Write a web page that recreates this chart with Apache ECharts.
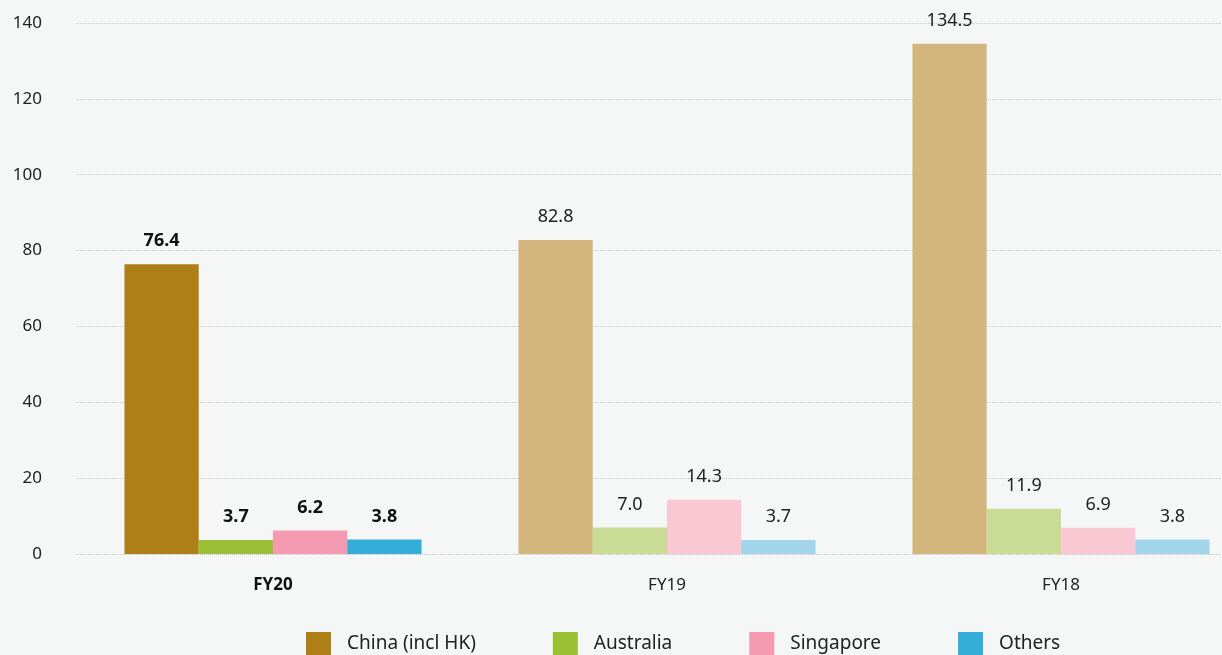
<!DOCTYPE html>
<html>
<head>
<meta charset="utf-8">
<script src="https://cdn.jsdelivr.net/npm/echarts@6/dist/echarts.min.js"></script>
<style>
html,body{margin:0;padding:0;background:#f5f7f6;}
#c{width:1222px;height:655px;}
</style>
</head>
<body>
<div id="c"></div>
<script>
const categories = ['FY20', 'FY19', 'FY18'];
const seriesNames = ['China (incl HK)', 'Australia', 'Singapore', 'Others'];
const china = [76.4, 82.8, 134.5];
const australia = [3.7, 7.0, 11.9];
const singapore = [6.2, 14.3, 6.9];
const others = [3.8, 3.7, 3.8];
const yTicks = [0, 20, 40, 60, 80, 100, 120, 140];

const strongColors = ['#ad7f16', '#9bbf35', '#f59ab0', '#34aed8'];
const lightColors = ['#d3b57e', '#c9db94', '#f9c8d3', '#a2d4eb'];
const values = [china, australia, singapore, others];
const FONT = '"Noto Sans", sans-serif';

const series = seriesNames.map((name, si) => ({
  name: name,
  type: 'bar',
  barGap: '0%',
  barCategoryGap: '24.6%',
  itemStyle: { color: strongColors[si] },
  data: values[si].map((v, ci) => ({
    value: v,
    itemStyle: { color: ci === 0 ? strongColors[si] : lightColors[si] },
    label: {
      show: true,
      position: 'top',
      distance: 14,
      fontFamily: FONT,
      fontSize: 18,
      fontWeight: ci === 0 ? 'bold' : 'normal',
      color: ci === 0 ? '#111' : '#222',
      formatter: (p) => p.value.toFixed(1)
    }
  }))
}));

const chart = echarts.init(document.getElementById('c'));
chart.setOption({
  backgroundColor: '#f5f7f6',
  animation: false,
  grid: { left: 76, width: 1182, top: 23, bottom: 101, containLabel: false, outerBoundsMode: 'none' },
  legend: {
    top: 627,
    left: 301,
    itemWidth: 25,
    itemHeight: 24,
    itemGap: 77,
    icon: 'rect',
    textStyle: { fontFamily: FONT, fontSize: 19, color: '#222', padding: [0, 0, 0, 11] },
    data: seriesNames
  },
  xAxis: {
    type: 'category',
    data: categories,
    axisLine: { show: false },
    axisTick: { show: false },
    axisLabel: {
      margin: 23,
      fontFamily: FONT,
      fontSize: 17,
      color: '#222',
      formatter: (v, i) => i === 0 ? '{b|' + v + '}' : v,
      rich: { b: { fontFamily: FONT, fontSize: 17, fontWeight: 'bold', color: '#111' } }
    }
  },
  yAxis: {
    type: 'value',
    min: yTicks[0],
    max: yTicks[yTicks.length - 1],
    interval: yTicks[1] - yTicks[0],
    axisLine: { show: false },
    axisTick: { show: false },
    axisLabel: { margin: 34, fontFamily: FONT, fontSize: 17, color: '#222' },
    splitLine: { lineStyle: { type: 'dotted', color: '#c8c8c8', width: 1 } }
  },
  series: series
});
</script>
</body>
</html>
